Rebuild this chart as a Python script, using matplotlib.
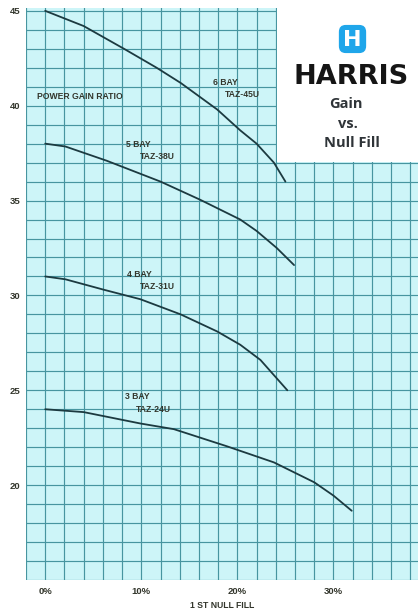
import matplotlib
matplotlib.use("Agg")
import matplotlib.pyplot as plt
from matplotlib.patches import Rectangle, FancyBboxPatch
import numpy as np

# ---- data ----
bay6_x = [0, 4.0, 8.2, 11.6, 14.1, 17.9, 20.3, 22.0, 23.8, 25.0]
bay6_y = [45.0, 44.2, 43.0, 42.0, 41.2, 39.8, 38.7, 38.0, 37.0, 36.0]
bay5_x = [0, 2.1, 6.4, 12.0, 16.1, 20.3, 22.0, 24.1, 25.9]
bay5_y = [38.0, 37.85, 37.1, 36.0, 35.05, 34.0, 33.4, 32.5, 31.6]
bay4_x = [0, 2.1, 6.1, 9.9, 14.1, 17.9, 20.3, 22.4, 23.8, 25.2]
bay4_y = [31.0, 30.85, 30.3, 29.8, 29.0, 28.1, 27.4, 26.6, 25.8, 25.0]
bay3_x = [0, 4.0, 9.9, 13.4, 18.9, 23.8, 28.0, 30.0, 31.9]
bay3_y = [24.0, 23.85, 23.25, 22.95, 22.05, 21.2, 20.15, 19.45, 18.65]

curve_labels = ["6 BAY", "5 BAY", "4 BAY", "3 BAY"]
model_labels = ["TAZ-45U", "TAZ-38U", "TAZ-31U", "TAZ-24U"]
x_tick_vals = [0, 10, 20, 30]
x_tick_labels = ["0%", "10%", "20%", "30%"]
y_tick_vals = [20, 25, 30, 35, 40, 45]
y_tick_labels = ["20", "25", "30", "35", "40", "45"]

# ---- styles / layout ----
W, H = 418, 610
fig = plt.figure(figsize=(W / 100, H / 100), dpi=100)
fig.patch.set_facecolor("white")
ax = fig.add_axes([26 / W, 30 / H, 392 / W, 572 / H])
ax.set_facecolor("#cdf5f8")
ax.set_xlim(-2, 38.8)
ax.set_ylim(15, 45.15)

grid_c = "#4795a0"
ax.set_xticks(x_tick_vals)
ax.set_xticks(np.arange(-2, 39, 2), minor=True)
ax.set_yticks(y_tick_vals)
ax.set_yticks(np.arange(15, 46, 1), minor=True)
ax.grid(True, which="both", color=grid_c, lw=0.85, zorder=1)
ax.set_axisbelow(True)
for s in ax.spines.values():
    s.set_visible(False)
txt_c = "#33362c"
tfont = dict(family="Liberation Sans", weight="bold", color=txt_c)
ax.set_xticklabels(x_tick_labels, fontsize=6.8, **tfont)
ax.set_yticklabels(y_tick_labels, fontsize=6.8, **tfont)
ax.tick_params(axis="both", which="both", length=0)
ax.tick_params(axis="x", pad=5)
ax.tick_params(axis="y", pad=4)
ax.set_xlabel("1 ST NULL FILL", fontsize=6.2, labelpad=4, **tfont)

line_c = "#1c3a40"
series = [(bay6_x, bay6_y), (bay5_x, bay5_y), (bay4_x, bay4_y), (bay3_x, bay3_y)]
for xs, ys in series:
    ax.plot(xs, ys, color=line_c, lw=1.3, zorder=4, solid_capstyle="round",
            solid_joinstyle="round")

# curve labels (positions in data units)
lab_pos = [((17.5, 41.2), (18.75, 40.6)),
           ((8.4, 37.95), (9.9, 37.3)),
           ((8.5, 31.1), (9.9, 30.45)),
           ((8.3, 24.65), (9.4, 24.0))]
for (p1, p2), l1, l2 in zip(lab_pos, curve_labels, model_labels):
    ax.text(p1[0], p1[1], l1, fontsize=6.2, ha="left", va="center", zorder=5, **tfont)
    ax.text(p2[0], p2[1], l2, fontsize=6.2, ha="left", va="center", zorder=5, **tfont)

ax.text(-0.85, 40.47, "POWER GAIN RATIO", fontsize=6.2, ha="left", va="center", zorder=5, **tfont)

# white title box at top right
ax.add_patch(Rectangle((0.640, 0.731), 0.37, 0.3, transform=ax.transAxes,
                       facecolor="white", edgecolor="none", zorder=3, clip_on=False))

# logo
lax = fig.add_axes([337 / W, (H - 55) / H, 31 / W, 32 / H])
lax.set_xlim(0, 1)
lax.set_ylim(0, 1)
lax.axis("off")
lax.add_patch(FancyBboxPatch((0.06, 0.06), 0.88, 0.88, boxstyle="round,pad=0,rounding_size=0.22",
                             facecolor="#1fa6ea", edgecolor="none"))
lax.text(0.5, 0.48, "H", color="white", fontsize=16, fontweight="bold",
         family="DejaVu Sans", ha="center", va="center")

fig.text(351 / W, 1 - 77 / H, "HARRIS", fontsize=19.5, fontweight="heavy",
         family="DejaVu Sans", color="#151515", ha="center", va="center")
sub_c = "#2f3438"
fig.text(346 / W, 1 - 104 / H, "Gain", fontsize=10.5, fontweight="bold",
         family="Open Sans", color=sub_c, ha="center", va="center")
fig.text(348 / W, 1 - 124 / H, "vs.", fontsize=10.5, fontweight="bold",
         family="Open Sans", color=sub_c, ha="center", va="center")
fig.text(352 / W, 1 - 143 / H, "Null Fill", fontsize=10.5, fontweight="bold",
         family="Open Sans", color=sub_c, ha="center", va="center")

fig.savefig("out.png", dpi=100, facecolor="white")
